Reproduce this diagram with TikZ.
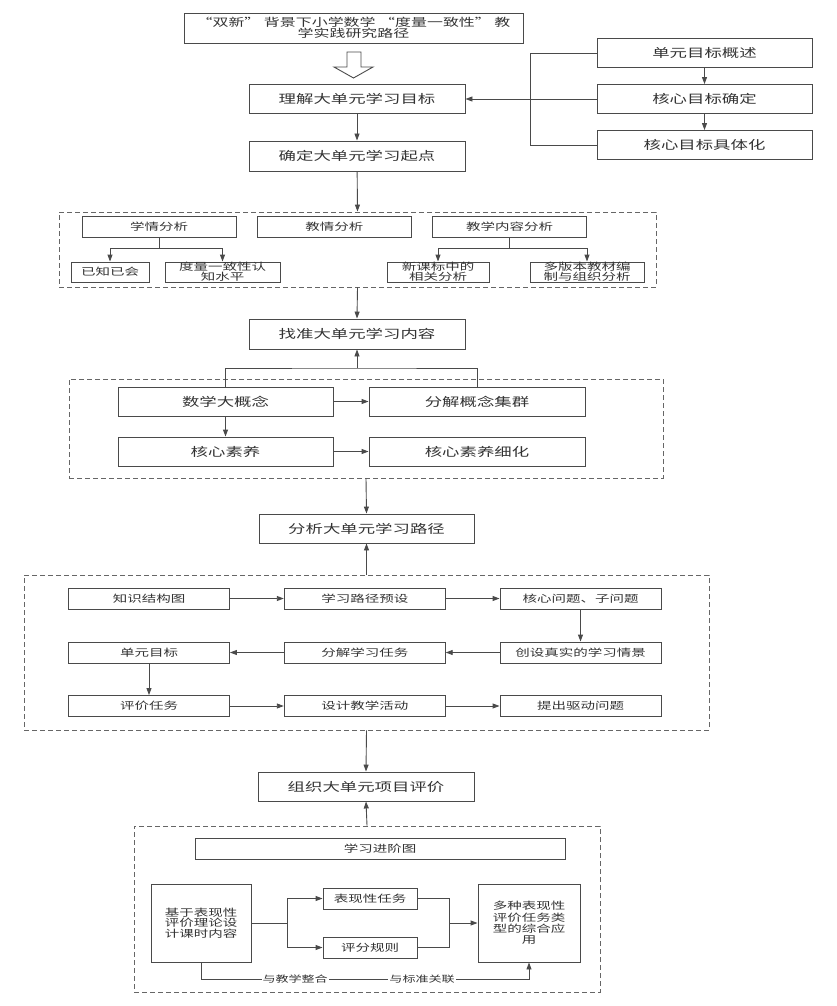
\documentclass[tikz,border=0pt]{standalone}
\usepackage{fontspec}
\usetikzlibrary{arrows.meta}
\newfontfamily\cjk[FakeStretch=1.45]{Noto Sans CJK SC}
\definecolor{LineGray}{HTML}{4A4A4A}
\definecolor{TextGray}{HTML}{333333}
\tikzset{
  mainbox/.style={draw=LineGray, line width=0.9pt, inner sep=0pt, align=center, text=TextGray, font=\cjk\fontsize{12}{13}\selectfont},
  subbox/.style={mainbox, font=\cjk\fontsize{10}{10}\selectfont},
  grp/.style={draw=black!60, line width=0.9pt, dash pattern=on 5pt off 3pt, inner sep=0pt},
  arr/.style={draw=LineGray, line width=0.9pt, -{Triangle[length=7pt,width=5pt]}},
  link/.style={draw=LineGray, line width=0.9pt},
  tag/.style={fill=white, inner sep=1pt, text=TextGray, font=\cjk\fontsize{9}{10}\selectfont}
}

\begin{document}
\begin{tikzpicture}[x=1pt, y=-1pt]
    \useasboundingbox (0,0) rectangle (836,1006);

    % top: title and goals
    \node[mainbox, minimum width=339, minimum height=30, font=\cjk\fontsize{11}{11.5}\selectfont] (ti) at (353.5,28) {“双新” 背景下小学数学 “度量一致性” 教\\学实践研究路径};
    \draw[LineGray, line width=0.9pt, fill=white] (347,52) -- (361,52) -- (361,67) -- (373,67) -- (353.5,78) -- (334,67) -- (347,67) -- cycle;
    \node[mainbox, minimum width=216, minimum height=29] (li) at (357,99) {理解大单元学习目标};
    \node[mainbox, minimum width=216, minimum height=30] (qd) at (357,156) {确定大单元学习起点};
    \foreach \t [count=\i] in {单元目标概述,核心目标确定,核心目标具体化}
        \node[mainbox, minimum width=215, minimum height=29] (r\i) at (704.5,{53+46*(\i-1)}) {\t};
    \draw[arr] (r1) -- (r2);
    \draw[arr] (r2) -- (r3);
    \draw[link] (r1.west) -- ++(-66,0) |- (r3.west);
    \draw[arr] (r2.west) -- (li.east);
    \draw[arr] (li) -- (qd);

    % starting point analysis
    \node[grp, minimum width=597, minimum height=75] (g1) at (357.5,249.5) {};
    \foreach \t [count=\i] in {学情分析,教情分析,教学内容分析}
        \node[subbox, minimum width=154, minimum height=21] (a\i) at ({159+175.25*(\i-1)},226.5) {\t};
    \node[subbox, minimum width=78, minimum height=20] (b1) at (110,272) {已知已会};
    \node[subbox, minimum width=115, minimum height=20] (b2) at (222.5,272) {度量一致性认\\知水平};
    \node[subbox, minimum width=102, minimum height=20] (b3) at (438,272) {新课标中的\\相关分析};
    \node[subbox, minimum width=114, minimum height=20] (b4) at (587,272) {多版本教材编\\制与组织分析};
    \draw[arr] (a1.south) -- ++(0,11) -| (b1.north);
    \draw[arr] (a1.south) -- ++(0,11) -| (b2.north);
    \draw[arr] (a3.south) -- ++(0,11) -| (b3.north);
    \draw[arr] (a3.south) -- ++(0,11) -| (b4.north);
    \draw[arr] (qd) -- (g1.north);

    % learning content
    \node[mainbox, minimum width=216, minimum height=30] (zz) at (357,334) {找准大单元学习内容};
    \draw[arr] (g1.south) -- (zz.north);
    \node[grp, minimum width=594, minimum height=99] (g2) at (366,428.5) {};
    \node[mainbox, minimum width=215, minimum height=29] (m1) at (225.5,401.5) {数学大概念};
    \node[mainbox, minimum width=216, minimum height=29] (m2) at (477,401.5) {分解概念集群};
    \node[mainbox, minimum width=215, minimum height=29] (m3) at (225.5,451.5) {核心素养};
    \node[mainbox, minimum width=216, minimum height=29] (m4) at (477,451.5) {核心素养细化};
    \coordinate (jn) at (357,368);
    \draw[link] (m1.north) |- (jn) -| (m2.north);
    \draw[arr] (jn) -- (zz.south);
    \draw[arr] (m1) -- (m2);
    \draw[arr] (m1) -- (m3);
    \draw[arr] (m3) -- (m4);

    % learning path
    \node[mainbox, minimum width=215, minimum height=29] (fx) at (366.5,528.5) {分析大单元学习路径};
    \draw[arr] (g2.south) -- (fx.north);
    \node[grp, minimum width=685, minimum height=155] (g3) at (366.5,652.5) {};
    \foreach \t [count=\j] in {知识结构图,学习路径预设,核心问题、子问题}
        \node[subbox, minimum width=161, minimum height=21] (p1\j) at ({149+215.75*(\j-1)},598.5) {\t};
    \foreach \t [count=\j] in {单元目标,分解学习任务,创设真实的学习情景}
        \node[subbox, minimum width=161, minimum height=21] (p2\j) at ({149+215.75*(\j-1)},652.5) {\t};
    \foreach \t [count=\j] in {评价任务,设计教学活动,提出驱动问题}
        \node[subbox, minimum width=161, minimum height=21] (p3\j) at ({149+215.75*(\j-1)},706) {\t};
    \foreach \a/\b in {p11/p12,p12/p13,p13/p23,p23/p22,p22/p21,p21/p31,p31/p32,p32/p33}
        \draw[arr] (\a) -- (\b);
    \draw[arr] (g3.north) -- (fx.south);

    % project evaluation
    \node[mainbox, minimum width=216, minimum height=29] (zj) at (366,786.5) {组织大单元项目评价};
    \draw[arr] (g3.south) -- (zj.north);
    \node[grp, minimum width=466, minimum height=166] (g4) at (367,909) {};
    \draw[arr] (g4.north) -- (zj.south);
    \node[subbox, minimum width=370, minimum height=21] (jt) at (380,848.5) {学习进阶图};
    \node[subbox, minimum width=100, minimum height=78, font=\cjk\fontsize{10}{10.6}\selectfont] (jy) at (201,923) {基于表现性\\评价理论设\\计课时内容};
    \node[subbox, minimum width=94, minimum height=21] (bx) at (370,898.5) {表现性任务};
    \node[subbox, minimum width=94, minimum height=21] (pf) at (370,947.5) {评分规则};
    \node[subbox, minimum width=102, minimum height=78, font=\cjk\fontsize{10}{11.4}\selectfont] (dz) at (529,923) {多种表现性\\评价任务类\\型的综合应\\用};
    \coordinate (sp) at (287,923);
    \coordinate (mj) at (449,923);
    \draw[link] (jy.east) -- (sp);
    \draw[arr] (sp) |- (bx.west);
    \draw[arr] (sp) |- (pf.west);
    \draw[link] (bx.east) -| (mj);
    \draw[link] (pf.east) -| (mj);
    \draw[arr] (mj) -- (dz.west);
    \coordinate (bl) at (201,979);
    \coordinate (br) at (529,979);
    \draw[arr] (jy.south) -- (bl) -- node[tag, pos=0.287] {与教学整合} node[tag, pos=0.674] {与标准关联} (br) -- (dz.south);
\end{tikzpicture}
\end{document}
